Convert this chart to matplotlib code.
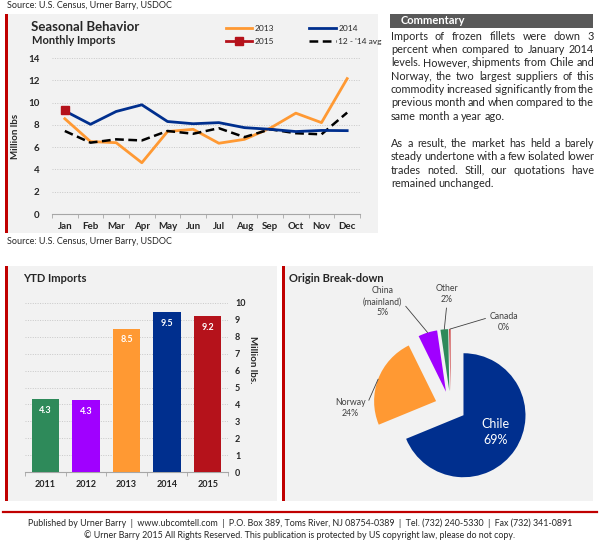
import numpy as np
import matplotlib
matplotlib.use("Agg")
import matplotlib.pyplot as plt
from matplotlib.patches import Rectangle
from matplotlib.lines import Line2D

plt.rcParams["font.family"] = ["Lato", "DejaVu Sans"]

# ----------------------------
# DATA
# ----------------------------
months          = ["Jan", "Feb", "Mar", "Apr", "May", "Jun",
                   "Jul", "Aug", "Sep", "Oct", "Nov", "Dec"]
imports_2013    = [8.55, 6.5, 6.4, 4.6, 7.4, 7.6, 6.35, 6.7, 7.7, 9.05, 8.2, 12.15]
imports_2014    = [9.25, 8.05, 9.2, 9.8, 8.3, 8.1, 8.2, 7.75, 7.6, 7.4, 7.5, 7.48]
imports_2015    = [9.3]
avg_12_14       = [7.45, 6.4, 6.7, 6.6, 7.45, 7.2, 7.7, 6.9, 7.6, 7.25, 7.15, 9.1]

ytd_years       = ["2011", "2012", "2013", "2014", "2015"]
ytd_values      = [4.32, 4.26, 8.49, 9.48, 9.23]

origin_names    = ["Chile", "Norway", "China\n(mainland)", "Other", "Canada"]
origin_share    = [69.0, 24.0, 5.0, 2.0, 0.3]

commentary_p1   = ["Imports of frozen fillets were down 3",
                   "percent when compared to January 2014",
                   "levels. However, shipments from Chile and",
                   "Norway, the two largest suppliers of this",
                   "commodity increased significantly from the",
                   "previous month and when compared to the",
                   "same month a year ago."]
commentary_p2   = ["As a result, the market has held a barely",
                   "steady undertone with a few isolated lower",
                   "trades noted. Still, our quotations have",
                   "remained unchanged."]

source_text     = "Source: U.S. Census, Urner Barry, USDOC"
footer_1        = ("Published by Urner Barry  |  www.ubcomtell.com  |  P.O. Box 389, Toms River, NJ 08754-0389"
                   "  |  Tel. (732) 240-5330  |  Fax (732) 341-0891")
footer_2        = ("\u00a9 Urner Barry 2015 All Rights Reserved. This publication is protected by US copyright law,"
                   " please do not copy.")

# colours
c_orange        = "#ff9933"
c_navy          = "#002f8e"
c_red           = "#b5121b"
c_green         = "#2e8a5a"
c_purple        = "#a000ff"
c_text          = "#262626"
c_panel         = "#f2f2f2"

W, H            = 600, 548
fig             = plt.figure(figsize=(W / 100, H / 100), dpi=100)


def fx(px):
    return px / W


def fy(py):
    return 1 - py / H


def axes_px(left, top, right, bottom):
    return fig.add_axes([fx(left), fy(bottom), (right - left) / W, (bottom - top) / H])


def panel(left, top, right, bottom):
    fig.add_artist(Rectangle((fx(left), fy(bottom)), (right - left) / W, (bottom - top) / H,
                             transform=fig.transFigure, facecolor=c_panel, edgecolor="none", zorder=-5))
    fig.add_artist(Rectangle((fx(left), fy(bottom)), 2.6 / W, (bottom - top) / H,
                             transform=fig.transFigure, facecolor="#c00000", edgecolor="none", zorder=-4))


# ----------------------------
# PANELS
# ----------------------------
panel(5, 14, 378, 233)
panel(5, 266, 277, 501)
panel(282, 266, 593, 501)

fig.text(fx(7), fy(6), source_text, fontsize=6.5, color=c_text, va="center")
fig.text(fx(7), fy(241), source_text, fontsize=6.5, color=c_text, va="center")

# ----------------------------
# SEASONAL LINE CHART
# ----------------------------
ax1             = axes_px(52, 58, 360, 214)
ax1.set_facecolor("none")
x_idx           = np.arange(len(months))

ln13, = ax1.plot(x_idx, imports_2013, color=c_orange, lw=2, label="2013", zorder=3)
ln14, = ax1.plot(x_idx, imports_2014, color=c_navy, lw=2, label="2014", zorder=4)
lnav, = ax1.plot(x_idx, avg_12_14, color="black", lw=1.8, ls=(0, (3.5, 1.8)), label="12 - '14 avg", zorder=3)
ln15, = ax1.plot(x_idx[:len(imports_2015)], imports_2015, color=c_red, lw=2, marker="s",
                 markersize=6, label="2015", zorder=5)

ax1.set_xlim(-0.5, len(months) - 0.5)
ax1.set_ylim(0, 14)
ax1.set_yticks(np.arange(0, 15, 2))
ax1.set_xticks(x_idx)
ax1.set_xticklabels(months)
ax1.set_xticks(np.arange(-0.5, len(months), 1), minor=True)
for lbl in ax1.get_xticklabels() + ax1.get_yticklabels():
    lbl.set_fontweight("bold")
    lbl.set_color(c_text)
ax1.tick_params(axis="x", which="major", length=0, labelsize=7, pad=6)
ax1.tick_params(axis="x", which="minor", length=3, color="#a6a6a6")
ax1.tick_params(axis="y", length=0, labelsize=7, pad=9)
for s in ["top", "right", "left"]:
    ax1.spines[s].set_visible(False)
ax1.spines["bottom"].set_color("#a6a6a6")
ax1.grid(axis="y", color="#c8c8c8", ls=(0, (1, 1.5)), lw=0.7)
ax1.set_axisbelow(True)
ax1.set_ylabel("Million lbs", fontsize=7, fontweight="bold", color=c_text, labelpad=6)

fig.text(fx(31), fy(27), "Seasonal Behavior", fontsize=9.5, fontweight="bold", color=c_text, va="center")
fig.text(fx(32), fy(41), "Monthly Imports", fontsize=8, fontweight="bold", color=c_text, va="center")

ax1.legend(handles=[ln13, ln15, ln14, lnav], ncol=2, frameon=False, fontsize=6,
           loc="center left", bbox_to_anchor=(fx(218), fy(35)), bbox_transform=fig.transFigure,
           handlelength=3.2, handletextpad=0.3, columnspacing=4.2, labelspacing=0.75,
           labelcolor=c_text)

# ----------------------------
# COMMENTARY
# ----------------------------
fig.add_artist(Rectangle((fx(390), fy(28)), (593 - 390) / W, 14 / H, transform=fig.transFigure,
                         facecolor="#595959", edgecolor="none", zorder=-3))
fig.text(fx(401), fy(21), "Commentary", fontsize=8, fontweight="bold", color="white", va="center")

renderer        = fig.canvas.get_renderer()


def justify_line(line, py, last, x0=391, x1=594):
    words = line.split()
    texts = [fig.text(0, fy(py), w, fontsize=7.8, color=c_text, va="center") for w in words]
    widths = [t.get_window_extent(renderer).width for t in texts]
    if last or len(words) == 1:
        gap = 2.6
    else:
        gap = (x1 - x0 - sum(widths)) / (len(words) - 1)
    xpos = x0
    for t, w in zip(texts, widths):
        t.set_x(fx(xpos))
        xpos += w + gap


line_step       = 13.4
line_y          = 36
for i, ln in enumerate(commentary_p1):
    justify_line(ln, line_y, i == len(commentary_p1) - 1)
    line_y += line_step
line_y += line_step
for i, ln in enumerate(commentary_p2):
    justify_line(ln, line_y, i == len(commentary_p2) - 1)
    line_y += line_step

# ----------------------------
# YTD BARS
# ----------------------------
fig.text(fx(23), fy(279), "YTD Imports", fontsize=8, fontweight="bold", color=c_text, va="center")

ax2             = axes_px(25, 303, 228, 472)
ax2.set_facecolor("none")
bar_colors      = [c_green, c_purple, c_orange, c_navy, c_red]
bars            = ax2.bar(ytd_years, ytd_values, width=0.67, color=bar_colors, zorder=3)
ax2.set_xlim(-0.5, len(ytd_years) - 0.5)
ax2.set_ylim(0, 10)
ax2.set_yticks(np.arange(0, 11, 1))
ax2.yaxis.tick_right()
ax2.set_xticks(np.arange(-0.5, len(ytd_years), 1), minor=True)
for lbl in ax2.get_xticklabels() + ax2.get_yticklabels():
    lbl.set_fontweight("bold")
    lbl.set_color(c_text)
ax2.tick_params(axis="x", which="major", length=0, labelsize=6.5, pad=6)
ax2.tick_params(axis="x", which="minor", length=3, color="#a6a6a6")
ax2.tick_params(axis="y", length=0, labelsize=6.5, pad=5)
for s in ["top", "right", "left"]:
    ax2.spines[s].set_visible(False)
ax2.spines["bottom"].set_color("#a6a6a6")
ax2.grid(axis="y", color="#c8c8c8", ls=(0, (1, 1.5)), lw=0.7)
ax2.set_axisbelow(True)

for rect, val in zip(bars, ytd_values):
    ax2.annotate(f"{val:.1f}", (rect.get_x() + rect.get_width() / 2, val),
                 xytext=(0, -5), textcoords="offset points", ha="center", va="top",
                 color="white", fontsize=6.5, fontweight="bold", zorder=4)

fig.text(fx(252), fy(360), "Million lbs.", rotation=-90, fontsize=7, fontweight="bold",
         color=c_text, ha="center", va="center")

# ----------------------------
# ORIGIN PIE
# ----------------------------
fig.text(fx(289), fy(279), "Origin Break-down", fontsize=8, fontweight="bold", color=c_text, va="center")

cx, cy, rad     = 450.6, 406.6, 62
ax3             = axes_px(cx - 2 * rad, cy - 2 * rad, cx + 2 * rad, cy + 2 * rad)
pie_colors      = [c_navy, c_orange, c_purple, c_green, "#c00000"]
explode         = 0.25
wedges, _       = ax3.pie(origin_share, colors=pie_colors, startangle=90, counterclock=False,
                          explode=[explode] * len(origin_share), wedgeprops=dict(edgecolor="none"))
ax3.set_xlim(-2, 2)
ax3.set_ylim(-2, 2)
ax3.set_aspect("equal")
ax3.axis("off")

total           = sum(origin_share)
pct_labels      = [f"{n}\n{v / total * 100:.0f}%" for n, v in zip(origin_names, origin_share)]

# label positions (data units of the pie axes) and where the leader leaves the text
label_pos       = [(0.73, -0.41), (-1.62, -0.02), (-1.10, 1.69), (-0.06, 1.82), (0.86, 1.37)]
label_rel       = [None, (1.0, 0.5), (1.0, 0.5), (0.5, 0.0), (0.0, 0.72)]

for i, (w, lbl) in enumerate(zip(wedges, pct_labels)):
    if i == 0:
        ax3.text(*label_pos[i], lbl, ha="center", va="center", color="white", fontsize=9,
                 linespacing=1.4)
        continue
    mid = np.deg2rad((w.theta1 + w.theta2) / 2)
    end = ((1 + explode) * np.cos(mid), (1 + explode) * np.sin(mid))
    ax3.annotate(lbl, xy=end, xytext=label_pos[i], ha="center", va="center", fontsize=6.3,
                 color="#404040", linespacing=1.3, annotation_clip=False,
                 arrowprops=dict(arrowstyle="-", color="#404040", lw=0.6, shrinkA=1, shrinkB=0,
                                 relpos=label_rel[i]))

# ----------------------------
# FOOTER
# ----------------------------
fig.add_artist(Line2D([fx(3), fx(597)], [fy(512), fy(512)], transform=fig.transFigure,
                      color="#c00000", lw=1.6))
fig.text(0.5, fy(523), footer_1, fontsize=6.4, color=c_text, ha="center", va="center")
fig.text(0.5, fy(535), footer_2, fontsize=6.4, color=c_text, ha="center", va="center")

fig.savefig("out.png", dpi=100, facecolor="white")
